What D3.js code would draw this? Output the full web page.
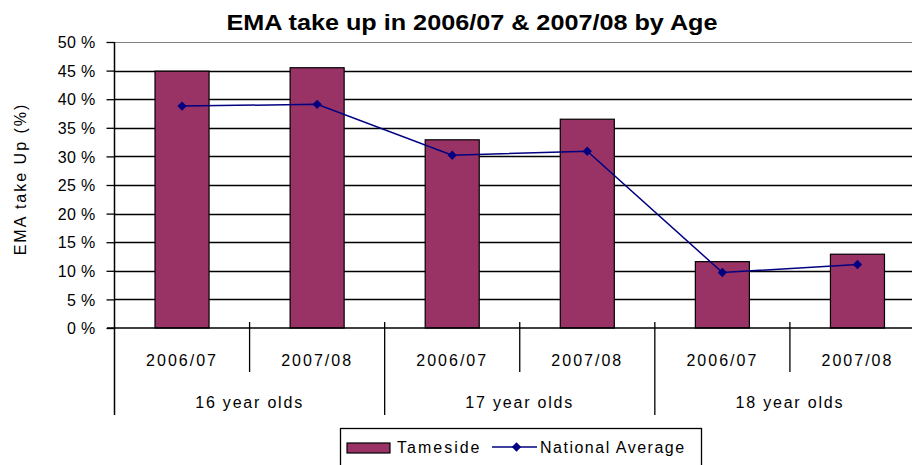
<!DOCTYPE html>
<html><head><meta charset="utf-8">
<script src="https://cdn.jsdelivr.net/npm/d3@7"></script>
<style>
html,body{margin:0;padding:0;background:#fff;overflow:hidden}
text{font-family:"Liberation Sans",Arial,sans-serif;fill:#000}
</style></head><body>
<svg id="c" width="912" height="465"></svg>
<script>
const years = ["2006/07","2007/08","2006/07","2007/08","2006/07","2007/08"];
const groups = ["16 year olds","17 year olds","18 year olds"];
const tameside = [44.9, 45.5, 32.9, 36.5, 11.6, 12.9];
const national = [38.8, 39.1, 30.2, 30.9, 9.7, 11.1];
const yTicks = [0,5,10,15,20,25,30,35,40,45,50];
const titleText = "EMA take up in 2006/07 & 2007/08 by Age";
const yTitle = "EMA take Up (%)";
const seriesNames = ["Tameside","National Average"];

const svg = d3.select("#c");
const L = 114.5, R = 925, T = 42, B = 328;
const x = d3.scaleBand().domain(d3.range(years.length)).range([L, R]).padding(0);
const y = d3.scaleLinear().domain([0,50]).range([B, T]);
const barW = x.bandwidth()*0.4;

// title
svg.append("text").attr("x",472).attr("y",30).attr("text-anchor","middle")
  .style("font-weight","bold").style("font-size","22px")
  .attr("textLength",491).attr("lengthAdjust","spacingAndGlyphs").text(titleText);

// gridlines
svg.append("g").selectAll("line").data(yTicks.filter(d=>d>0)).join("line")
  .attr("x1",L).attr("x2",R).attr("y1",d=>Math.round(y(d))+0.5).attr("y2",d=>Math.round(y(d))+0.5)
  .attr("stroke",d=>d===50?"#808080":"#000").attr("stroke-width",d=>d===50?1:1.3);

// y axis
const yAxis = d3.axisLeft(y).tickValues(yTicks).tickSize(8).tickFormat(d=>d+" %");
const gy = svg.append("g").attr("transform",`translate(${L},0)`).call(yAxis);
gy.select(".domain").remove();
gy.selectAll(".tick line").attr("stroke","#000").attr("stroke-width",1.3);
gy.selectAll(".tick text").attr("x",-19).attr("dy","0.36em")
  .style("font-size","16px").style("letter-spacing","0.3px").style("font-family","'Liberation Sans',Arial,sans-serif");
svg.append("line").attr("x1",L).attr("x2",L).attr("y1",T).attr("y2",415).attr("stroke","#000").attr("stroke-width",1.5);

// y title
svg.append("text").attr("transform",`translate(26,179) rotate(-90)`).attr("text-anchor","middle")
  .style("font-size","16px").style("letter-spacing","2px").text(yTitle);

// bars
svg.append("g").selectAll("rect").data(tameside).join("rect")
  .attr("x",(d,i)=>x(i)+x.bandwidth()/2-barW/2).attr("width",barW)
  .attr("y",d=>y(d)).attr("height",d=>B-y(d))
  .attr("fill","#993366").attr("stroke","#000").attr("stroke-width",1.2);

// x axis line
svg.append("line").attr("x1",107).attr("x2",R).attr("y1",B).attr("y2",B).attr("stroke","#000").attr("stroke-width",1.5);

// ticks between categories
const gx = svg.append("g");
d3.range(1,years.length).forEach(i=>{
  const xx = x(i);
  const isGroup = i%2===0;
  gx.append("line").attr("x1",xx).attr("x2",xx).attr("y1",322).attr("y2",isGroup?415:372)
    .attr("stroke","#000").attr("stroke-width",1.3);
});
gx.selectAll("text.yr").data(years).join("text").attr("class","yr")
  .attr("x",(d,i)=>x(i)+x.bandwidth()/2).attr("y",366).attr("text-anchor","middle")
  .style("font-size","16px").style("letter-spacing","2px").text(d=>d);
gx.selectAll("text.gr").data(groups).join("text").attr("class","gr")
  .attr("x",(d,i)=>x(i*2+1)).attr("y",408).attr("text-anchor","middle")
  .style("font-size","16px").style("letter-spacing","1.8px").text(d=>d);

// line series
const line = d3.line().x((d,i)=>x(i)+x.bandwidth()/2).y(d=>y(d));
svg.append("path").datum(national).attr("d",line).attr("fill","none").attr("stroke","#000080").attr("stroke-width",1.5);
const diamond = d3.symbol().type(d3.symbolDiamond2).size(55);
svg.append("g").selectAll("path").data(national).join("path")
  .attr("transform",(d,i)=>`translate(${x(i)+x.bandwidth()/2},${y(d)})`)
  .attr("d",diamond).attr("fill","#000080");

// legend
const lg = svg.append("g");
lg.append("rect").attr("x",340.5).attr("y",428.5).attr("width",361).attr("height",50)
  .attr("fill","#fff").attr("stroke","#000").attr("stroke-width",1.3);
lg.append("rect").attr("x",347).attr("y",443).attr("width",43).attr("height",10)
  .attr("fill","#993366").attr("stroke","#000").attr("stroke-width",1.2);
lg.append("text").attr("x",397).attr("y",453).style("font-size","16px").style("letter-spacing","2px").text(seriesNames[0]);
lg.append("line").attr("x1",492).attr("x2",537).attr("y1",447).attr("y2",447).attr("stroke","#000080").attr("stroke-width",1.5);
lg.append("path").attr("transform","translate(516.5,447)").attr("d",diamond).attr("fill","#000080");
lg.append("text").attr("x",540).attr("y",453).style("font-size","16px").style("letter-spacing","1.5px").text(seriesNames[1]);
</script>
</body></html>
